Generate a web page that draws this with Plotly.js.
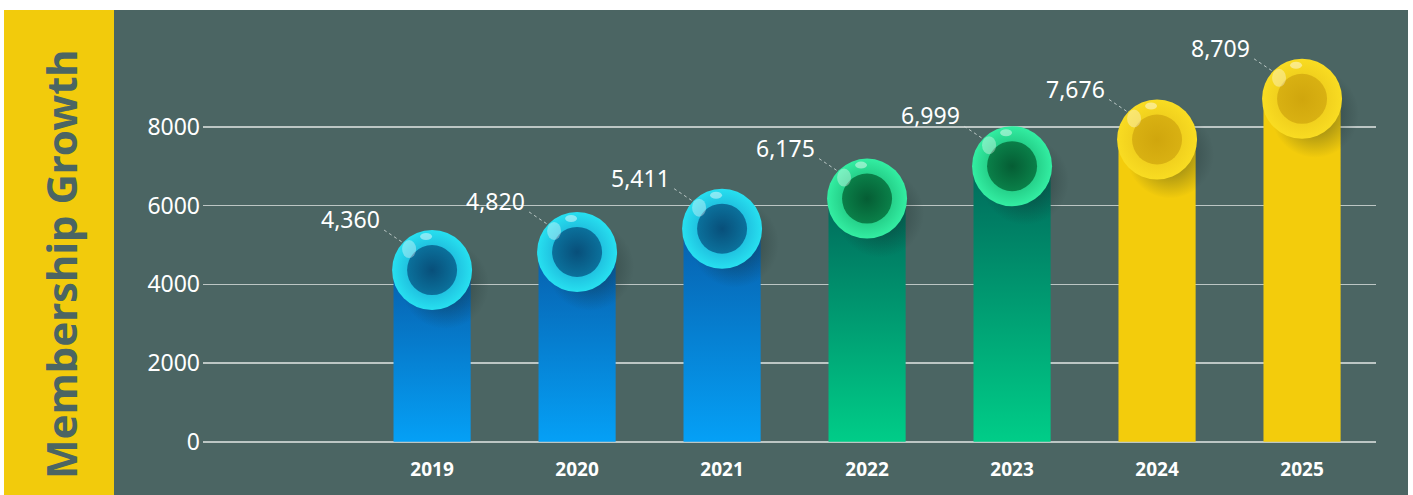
<!DOCTYPE html>
<html>
<head>
<meta charset="utf-8">
<script src="https://cdn.plot.ly/plotly-3.0.1.min.js"></script>
<style>html,body{margin:0;padding:0;background:#fff;}#chart{width:1413px;height:495px;}</style>
</head>
<body>
<div id="chart"></div>
<script>
// ---- data ----
const years = ['2019', '2020', '2021', '2022', '2023', '2024', '2025'];
const members = [4360, 4820, 5411, 6175, 6999, 7676, 8709];
const colorGroup = ['blue', 'blue', 'blue', 'green', 'green', 'yellow', 'yellow'];
const yTickVals = [0, 2000, 4000, 6000, 8000];
const yTickText = ['0', '2000', '4000', '6000', '8000'];
const chartTitle = 'Membership Growth';

// ---- styles ----
const palette = {
  blue:   {barTop: '#0760ad', barBottom: '#05a0f6', rim: '#27e0f0', rimCenter: '#1592c6', innerEdge: '#0b719c', innerCenter: '#084f7a'},
  green:  {barTop: '#006a5b', barBottom: '#00cd88', rim: '#33eea2', rimCenter: '#10a263', innerEdge: '#0a8049', innerCenter: '#055d34'},
  yellow: {barTop: '#f3cc0c', barBottom: '#f3cc0c', rim: '#f9dc22', rimCenter: '#e4be16', innerEdge: '#d9b112', innerCenter: '#d0a60d'}
};
const panelColor = '#4b6563';
const stripColor = '#f2cb0c';
const fontFam = '"Noto Sans", Roboto, sans-serif';
const halfW = 0.266;

const xIdx = years.map((_, i) => i);
const traces = [];

// bars with vertical gradients
members.forEach((v, i) => {
  const p = palette[colorGroup[i]];
  traces.push({
    type: 'scatter', mode: 'lines', fill: 'toself',
    x: [i - halfW, i + halfW, i + halfW, i - halfW, i - halfW],
    y: [0, 0, v, v, 0],
    line: {width: 0, color: p.barTop},
    fillgradient: {type: 'vertical', colorscale: [[0, p.barBottom], [1, p.barTop]]},
    hoverinfo: 'skip', showlegend: false
  });
});

// soft shadow behind balls
traces.push({
  type: 'scatter', mode: 'markers',
  x: xIdx.map(i => i + 0.09), y: members.map(v => v - 380),
  marker: {size: 88, color: 'rgba(20,35,35,0)', line: {width: 0},
           gradient: {type: 'radial', color: 'rgba(15,30,30,0.55)'}},
  hoverinfo: 'skip', showlegend: false
});

// outer ball
traces.push({
  type: 'scatter', mode: 'markers', x: xIdx, y: members,
  marker: {size: 80, color: colorGroup.map(g => palette[g].rim), line: {width: 0},
           gradient: {type: 'radial', color: colorGroup.map(g => palette[g].rimCenter)}},
  hoverinfo: 'skip', showlegend: false
});
// inner disk
traces.push({
  type: 'scatter', mode: 'markers', x: xIdx, y: members,
  marker: {size: 50, color: colorGroup.map(g => palette[g].innerEdge), line: {width: 0},
           gradient: {type: 'radial', color: colorGroup.map(g => palette[g].innerCenter)}},
  hoverinfo: 'skip', showlegend: false
});

// shapes: background panels + gloss + leader lines
const L = 203, W = 1173, T = 48, B = 452, H = B - T;
const px = v => (v - L) / W;
const py = v => (B - v) / H;
const shapes = [
  {type: 'rect', xref: 'paper', yref: 'paper', x0: px(4), x1: px(114), y0: py(495), y1: py(10),
   fillcolor: stripColor, line: {width: 0}, layer: 'below'},
  {type: 'rect', xref: 'paper', yref: 'paper', x0: px(114), x1: px(1408), y0: py(495), y1: py(10),
   fillcolor: panelColor, line: {width: 0}, layer: 'below'}
];
members.forEach((v, i) => {
  shapes.push({type: 'circle', xref: 'x', yref: 'y', xsizemode: 'pixel', ysizemode: 'pixel',
    xanchor: i, yanchor: v, x0: -30, x1: -16, y0: 12, y1: 30,
    fillcolor: 'rgba(255,255,255,0.35)', line: {width: 0}, layer: 'above'});
  shapes.push({type: 'circle', xref: 'x', yref: 'y', xsizemode: 'pixel', ysizemode: 'pixel',
    xanchor: i, yanchor: v, x0: -12, x1: 0, y0: 30, y1: 37,
    fillcolor: 'rgba(255,255,255,0.45)', line: {width: 0}, layer: 'above'});
  shapes.push({type: 'line', xref: 'x', yref: 'y', xsizemode: 'pixel', ysizemode: 'pixel',
    xanchor: i, yanchor: v, x0: -48, y0: 40, x1: -30, y1: 28,
    line: {color: 'rgba(205,215,213,0.85)', width: 1, dash: 'dot'}, layer: 'above'});
});

const annotations = members.map((v, i) => ({
  x: i, y: v, xref: 'x', yref: 'y', text: v.toLocaleString('en-US'),
  showarrow: false, xanchor: 'right', yanchor: 'bottom', xshift: -50, yshift: 33,
  font: {family: fontFam, size: 23, color: '#ffffff'}
}));
annotations.push({
  xref: 'paper', yref: 'paper', x: px(60), y: py(264), text: '<b>' + chartTitle + '</b>',
  textangle: -90, showarrow: false, xanchor: 'center', yanchor: 'middle',
  font: {family: fontFam, size: 42, color: panelColor}
});

const layout = {
  width: 1413, height: 495,
  margin: {l: L, r: 1413 - (L + W), t: T, b: 495 - B, pad: 0},
  paper_bgcolor: '#ffffff', plot_bgcolor: 'rgba(0,0,0,0)',
  showlegend: false,
  xaxis: {range: [-1.58, 6.51], tickvals: xIdx, ticktext: years, showgrid: false, zeroline: false,
          showline: false, ticks: '', ticklabelstandoff: 4,
          tickfont: {family: fontFam, size: 19, color: '#ffffff', weight: 'bold'}, fixedrange: true},
  yaxis: {range: [-260, 10000], tickvals: yTickVals, ticktext: yTickText, showgrid: true,
          gridcolor: '#bcc6c4', gridwidth: 1.5, zeroline: false, showline: false, ticks: '',
          ticklabelstandoff: 2,
          tickfont: {family: fontFam, size: 23, color: '#ffffff'}, fixedrange: true},
  shapes: shapes,
  annotations: annotations
};

Plotly.newPlot('chart', traces, layout, {staticPlot: true, displayModeBar: false});
</script>
</body>
</html>
